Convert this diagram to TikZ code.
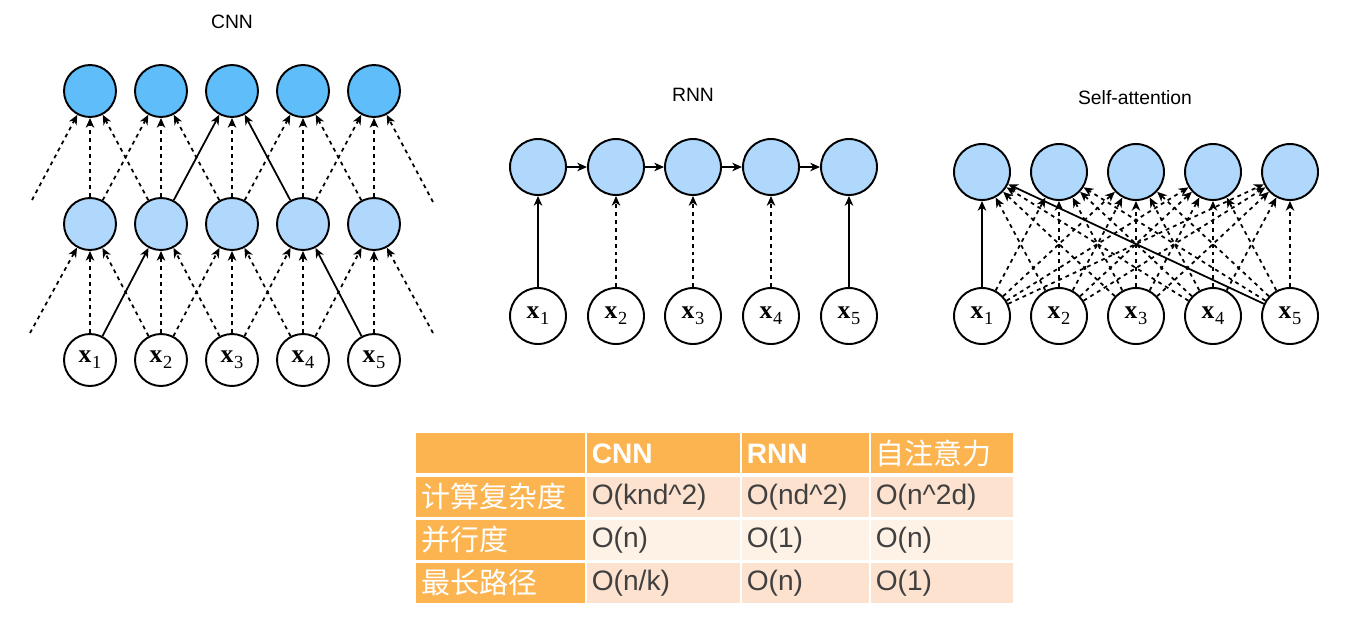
\documentclass[tikz,border=0pt]{standalone}
\usepackage{fontspec}
\setmainfont{Liberation Serif}
\setsansfont{Liberation Sans}
\newfontfamily\cjk{Noto Sans CJK SC}
\usetikzlibrary{arrows.meta}

\definecolor{topblue}{RGB}{95,189,250}
\definecolor{midblue}{RGB}{176,216,252}
\definecolor{taborange}{RGB}{251,180,80}
\definecolor{cellpeach}{RGB}{253,227,207}
\definecolor{celllight}{RGB}{254,241,230}
\definecolor{celltext}{RGB}{64,64,64}

\newcommand{\xlab}[1]{\fontsize{14.5}{14.5}\selectfont\textbf{x}\kern0.4pt\raisebox{-3.5pt}{\fontsize{10.5}{10.5}\selectfont #1}}

\begin{document}
\begin{tikzpicture}[x=0.02cm, y=-0.02cm,
  unit/.style={circle, draw, line width=1.1pt, minimum size=1.04cm, inner sep=0pt},
  bigunit/.style={unit, minimum size=1.12cm},
  arr/.style={line width=1pt, -{Stealth[length=5.5pt, width=4.8pt, inset=1.6pt]}},
  dotarr/.style={arr, dash pattern=on 2.2pt off 2.3pt},
  title/.style={font=\sffamily\fontsize{11}{11}\selectfont},
  cell/.style={rectangle, inner xsep=0.1cm, inner ysep=0pt, minimum height=0.8cm,
    anchor=north west, align=left, font=\sffamily\fontsize{16}{16}\selectfont},
  head/.style={cell, fill=taborange, text=white},
  data/.style={cell, text=celltext}]
\useasboundingbox (0,0) rectangle (1354,633);

% CNN
\node[title] (tcnn) at (232,22) {CNN};
\foreach \i/\cx in {1/90,2/161,3/232,4/303,5/374}{
  \node[unit, fill=topblue] (ct\i) at (\cx,91) {};
  \node[unit, fill=midblue] (cm\i) at (\cx,224) {};
  \node[unit, fill=white] (cx\i) at (\cx,360) {\xlab{\i}};
}
\coordinate (cl1) at (30,333); \coordinate (cr1) at (433,333);
\coordinate (cl2) at (32,200); \coordinate (cr2) at (433,202);
\foreach \a/\b in {cl1/cm1, cx1/cm1, cx2/cm1, cx2/cm2, cx3/cm2,
    cx2/cm3, cx3/cm3, cx4/cm3, cx3/cm4, cx4/cm4, cx4/cm5, cx5/cm5, cr1/cm5,
    cl2/ct1, cm1/ct1, cm2/ct1, cm1/ct2, cm2/ct2, cm3/ct2, cm3/ct3,
    cm3/ct4, cm4/ct4, cm5/ct4, cm4/ct5, cm5/ct5, cr2/ct5}
  \draw[dotarr] (\a) -- (\b);
\draw[arr] (cx1) -- (cm2);
\draw[arr] (cx5) -- (cm4);
\draw[arr] (cm2) -- (ct3);
\draw[arr] (cm4) -- (ct3);

% RNN
\node[title] (trnn) at (693,95) {RNN};
\foreach \i/\cx in {1/538,2/616,3/693,4/771,5/849}{
  \node[bigunit, fill=midblue] (rh\i) at (\cx,167) {};
  \node[bigunit, fill=white] (rx\i) at (\cx,316) {\xlab{\i}};
}
\foreach \i/\j in {1/2,2/3,3/4,4/5}
  \draw[arr] (rh\i) -- (rh\j);
\draw[arr] (rx1) -- (rh1);
\foreach \i in {2,3,4}
  \draw[dotarr] (rx\i) -- (rh\i);
\draw[arr] (rx5) -- (rh5);

% self-attention
\node[title] (tsa) at (1135,98) {Self-attention};
\foreach \i/\cx in {1/982,2/1059,3/1136,4/1213,5/1290}{
  \node[bigunit, fill=midblue] (sa\i) at (\cx,172) {};
  \node[bigunit, fill=white] (sx\i) at (\cx,316) {\xlab{\i}};
}
\foreach \i in {1,...,5}{
  \foreach \j in {2,...,5}
    \draw[dotarr] (sx\i) -- (sa\j);
}
\foreach \i in {2,3,4}
  \draw[dotarr] (sx\i) -- (sa1);
\draw[arr] (sx1) -- (sa1);
\draw[arr] (sx5) -- (sa1);

% table
\node[head, text width=3.18cm] (h0) at (416,433) {};
\node[head, text width=2.86cm] (h1) at (586.5,433) {\textbf{CNN}};
\node[head, text width=2.34cm] (h2) at (741.5,433) {\textbf{RNN}};
\node[head, text width=2.65cm] (h3) at (870.5,433) {\cjk\fontsize{16.5}{16.5}\selectfont 自注意力};

\node[head, text width=3.18cm] (r1) at (416,476.5) {\cjk\fontsize{16.5}{16.5}\selectfont 计算复杂度};
\node[data, fill=cellpeach, text width=2.86cm] (r1a) at (586.5,476.5) {O(knd\^{}2)};
\node[data, fill=cellpeach, text width=2.34cm] (r1b) at (741.5,476.5) {O(nd\^{}2)};
\node[data, fill=cellpeach, text width=2.65cm] (r1c) at (870.5,476.5) {O(n\^{}2d)};

\node[head, text width=3.18cm] (r2) at (416,519.5) {\cjk\fontsize{16.5}{16.5}\selectfont 并行度};
\node[data, fill=celllight, text width=2.86cm] (r2a) at (586.5,519.5) {O(n)};
\node[data, fill=celllight, text width=2.34cm] (r2b) at (741.5,519.5) {O(1)};
\node[data, fill=celllight, text width=2.65cm] (r2c) at (870.5,519.5) {O(n)};

\node[head, text width=3.18cm] (r3) at (416,562.5) {\cjk\fontsize{16.5}{16.5}\selectfont 最长路径};
\node[data, fill=cellpeach, text width=2.86cm] (r3a) at (586.5,562.5) {O(n/k)};
\node[data, fill=cellpeach, text width=2.34cm] (r3b) at (741.5,562.5) {O(n)};
\node[data, fill=cellpeach, text width=2.65cm] (r3c) at (870.5,562.5) {O(1)};
\end{tikzpicture}
\end{document}
